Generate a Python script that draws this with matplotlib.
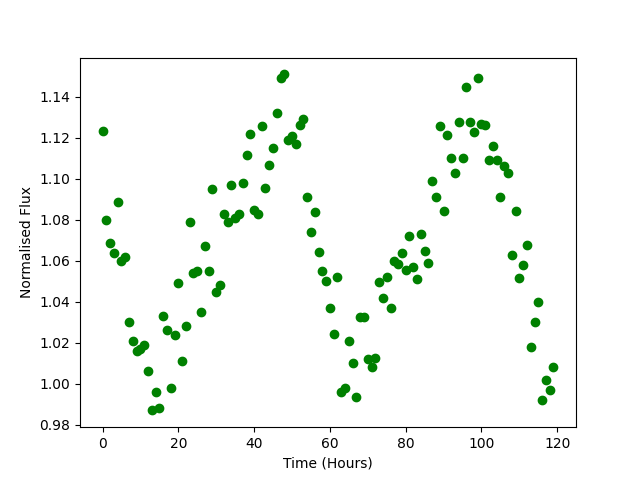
import matplotlib
matplotlib.use("Agg")
import matplotlib.pyplot as plt
from matplotlib.ticker import MultipleLocator, FormatStrFormatter

time_hours = list(range(120))
flux = [
    1.1235, 1.080, 1.0685, 1.064, 1.0885, 1.060, 1.062, 1.030, 1.021, 1.016,
    1.017, 1.019, 1.006, 0.987, 0.996, 0.988, 1.033, 1.026, 0.998, 1.024,
    1.049, 1.011, 1.028, 1.079, 1.054, 1.055, 1.035, 1.067, 1.055, 1.095,
    1.045, 1.048, 1.083, 1.079, 1.097, 1.081, 1.083, 1.098, 1.1115, 1.122,
    1.085, 1.083, 1.126, 1.0955, 1.107, 1.115, 1.132, 1.149, 1.151, 1.119,
    1.121, 1.117, 1.1265, 1.129, 1.091, 1.074, 1.084, 1.0645, 1.055, 1.050,
    1.037, 1.0245, 1.052, 0.996, 0.998, 1.021, 1.010, 0.9935, 1.0325, 1.0325,
    1.012, 1.008, 1.0125, 1.0495, 1.042, 1.052, 1.037, 1.060, 1.0585, 1.064,
    1.0555, 1.072, 1.057, 1.051, 1.073, 1.065, 1.059, 1.099, 1.091, 1.126,
    1.0845, 1.1215, 1.110, 1.103, 1.128, 1.110, 1.145, 1.128, 1.123, 1.149,
    1.127, 1.1265, 1.109, 1.116, 1.109, 1.091, 1.1065, 1.103, 1.063, 1.0845,
    1.0515, 1.058, 1.0675, 1.018, 1.030, 1.040, 0.992, 1.002, 0.997, 1.008,
]

fig, ax = plt.subplots(figsize=(6.4, 4.8), dpi=100)
ax.plot(time_hours, flux, 'o', color='green')
ax.yaxis.set_major_locator(MultipleLocator(0.02))
ax.yaxis.set_major_formatter(FormatStrFormatter('%.2f'))
ax.set_xlabel('Time (Hours)')
ax.set_ylabel('Normalised Flux')
fig.savefig('out.png')
